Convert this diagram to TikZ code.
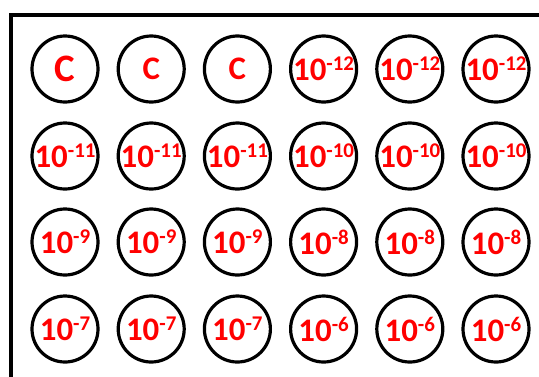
\documentclass[tikz,border=0pt]{standalone}
\usepackage{fontspec}
\setmainfont{Carlito}
\usetikzlibrary{positioning}
\newcommand{\dil}[1]{10\raisebox{10bp}{\fontsize{21}{21}\selectfont#1}}

\begin{document}
\begin{tikzpicture}[x=1bp, y=-1bp,
          well/.style={circle, draw, line width=3.2bp, minimum size=66bp, inner sep=0pt,
                       text=red, font=\bfseries\fontsize{33}{33}\selectfont},
          plate/.style={line width=4bp}]
        \useasboundingbox (0,0) rectangle (539,376);
        % plate edge
        \draw[plate] (11,378) -- (11,15) -- (541,15);
        % controls
        \node[well, font=\bfseries\fontsize{39}{39}\selectfont] (W11) at (65,69) {C};
        \foreach \c in {2,3}
            \node[well] (W1\c) at ({65+86.2*(\c-1)},69) {C};
        \foreach \c in {4,5,6}
            \node[well] (W1\c) at ({65+86.2*(\c-1)},69) {\dil{-12}};
        % dilutions
        \foreach \r/\y/\a/\b in {2/156/-11/-10, 3/242/-9/-8, 4/329/-7/-6}{
            \foreach \c in {1,2,3}
                \node[well] (W\r\c) at ({65+86.2*(\c-1)},\y) {\dil{\a}};
            \foreach \c in {4,5,6}
                \node[well] (W\r\c) at ({65+86.2*(\c-1)},\y) {\dil{\b}};
        }
      \end{tikzpicture}
\end{document}
